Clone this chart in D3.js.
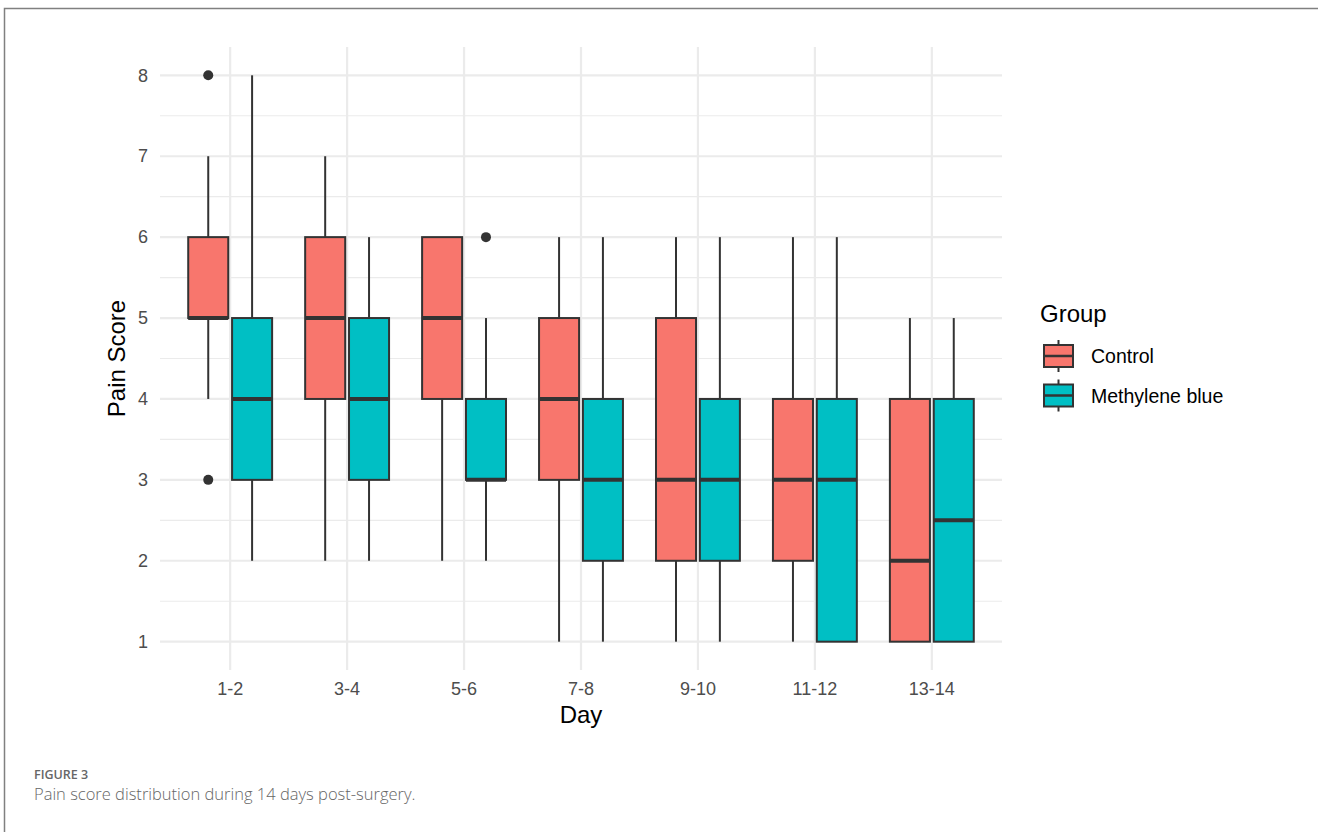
<!DOCTYPE html>
<html>
<head>
<meta charset="utf-8">
<script src="https://cdn.jsdelivr.net/npm/d3@7"></script>
<style>
  body { margin: 0; background: #fff; }
  svg { display: block; }
</style>
</head>
<body>
<script>
// ================== DATA ===========================
const days = ["1-2", "3-4", "5-6", "7-8", "9-10", "11-12", "13-14"];
const groups = ["Control", "Methylene blue"];
const groupColors = ["#F8766D", "#00BFC4"];

// five-number summaries per day: [lower whisker, q1, median, q3, upper whisker]
const controlStats = [
  [4, 5, 5, 6, 7],
  [2, 4, 5, 6, 7],
  [2, 4, 5, 6, 6],
  [1, 3, 4, 5, 6],
  [1, 2, 3, 5, 6],
  [1, 2, 3, 4, 6],
  [1, 1, 2, 4, 5]
];
const blueStats = [
  [2, 3, 4, 5, 8],
  [2, 3, 4, 5, 6],
  [2, 3, 3, 4, 5],
  [1, 2, 3, 4, 6],
  [1, 2, 3, 4, 6],
  [1, 1, 3, 4, 6],
  [1, 1, 2.5, 4, 5]
];
const controlOutliers = [[8, 3], [], [], [], [], [], []];
const blueOutliers = [[], [], [6], [], [], [], []];

const yTicks = [1, 2, 3, 4, 5, 6, 7, 8];

// ================== LAYOUT ===========================
const W = 1318, H = 832;
const FONT = "'Liberation Sans', Arial, sans-serif";
const svg = d3.select("body").append("svg")
  .attr("width", W).attr("height", H);

// figure frame (top + left rule)
svg.append("path")
  .attr("d", `M4.5,${H} L4.5,8.5 L${W},8.5`)
  .attr("fill", "none").attr("stroke", "#808080").attr("stroke-width", 1.5);

const panel = {left: 160, right: 1002, top: 47, bottom: 670};

const x = d3.scaleBand().domain(days)
  .range([panel.left, panel.right]).paddingOuter(0.1).paddingInner(0);
const step = x.step();
const xc = d => x(d) + x.bandwidth() / 2;

const y = d3.scaleLinear().domain([0.65, 8.35]).range([panel.bottom, panel.top]);

const g = svg.append("g");

// ============ grid =============================
const minor = d3.range(1.5, 8, 1);
g.selectAll(".minor").data(minor).enter().append("line")
  .attr("x1", panel.left).attr("x2", panel.right)
  .attr("y1", d => y(d)).attr("y2", d => y(d))
  .attr("stroke", "#EBEBEB").attr("stroke-width", 1.2);
g.selectAll(".major").data(yTicks).enter().append("line")
  .attr("x1", panel.left).attr("x2", panel.right)
  .attr("y1", d => y(d)).attr("y2", d => y(d))
  .attr("stroke", "#EBEBEB").attr("stroke-width", 2.2);
g.selectAll(".vmajor").data(days).enter().append("line")
  .attr("x1", d => xc(d)).attr("x2", d => xc(d))
  .attr("y1", panel.top).attr("y2", panel.bottom)
  .attr("stroke", "#EBEBEB").attr("stroke-width", 2.2);

// ============ axes labels =============================
const yAxis = d3.axisLeft(y).tickValues(yTicks).tickSize(0).tickPadding(12);
const yg = g.append("g").attr("transform", `translate(${panel.left},0)`).call(yAxis);
const xAxis = d3.axisBottom(x).tickSize(0).tickPadding(12);
const xg = g.append("g").attr("transform", `translate(0,${panel.bottom})`).call(xAxis);
[yg, xg].forEach(a => {
  a.select(".domain").remove();
  a.selectAll("text").attr("font-family", FONT)
    .attr("font-size", 18).attr("fill", "#4D4D4D");
});

svg.append("text")
  .attr("transform", `translate(125,${(panel.top + panel.bottom) / 2}) rotate(-90)`)
  .attr("text-anchor", "middle")
  .attr("font-family", FONT)
  .attr("font-size", 24).attr("fill", "#000").text("Pain Score");
svg.append("text")
  .attr("x", (panel.left + panel.right) / 2).attr("y", 723)
  .attr("text-anchor", "middle")
  .attr("font-family", FONT)
  .attr("font-size", 24).attr("fill", "#000").text("Day");

// ============ boxes =================================
const slot = step * 0.375;
const boxW = slot * 0.913;
const allStats = [controlStats, blueStats];
const allOut = [controlOutliers, blueOutliers];
const boxData = [];
groups.forEach((grp, gi) => {
  days.forEach((d, di) => {
    boxData.push({day: d, gi: gi, s: allStats[gi][di], out: allOut[gi][di]});
  });
});
const cx = b => xc(b.day) + (b.gi === 0 ? -1 : 1) * slot / 2;

const boxes = g.selectAll(".box").data(boxData).enter().append("g");
boxes.append("line")
  .attr("x1", cx).attr("x2", cx)
  .attr("y1", b => y(b.s[4])).attr("y2", b => y(b.s[3]))
  .attr("stroke", "#333").attr("stroke-width", 2);
boxes.append("line")
  .attr("x1", cx).attr("x2", cx)
  .attr("y1", b => y(b.s[1])).attr("y2", b => y(b.s[0]))
  .attr("stroke", "#333").attr("stroke-width", 2);
boxes.append("rect")
  .attr("x", b => cx(b) - boxW / 2).attr("width", boxW)
  .attr("y", b => y(b.s[3])).attr("height", b => y(b.s[1]) - y(b.s[3]))
  .attr("fill", b => groupColors[b.gi]).attr("stroke", "#333").attr("stroke-width", 2);
boxes.append("line")
  .attr("x1", b => cx(b) - boxW / 2).attr("x2", b => cx(b) + boxW / 2)
  .attr("y1", b => y(b.s[2])).attr("y2", b => y(b.s[2]))
  .attr("stroke", "#333").attr("stroke-width", 4);
boxes.selectAll("circle").data(b => b.out.map(v => ({b: b, v: v}))).enter()
  .append("circle")
  .attr("cx", o => cx(o.b)).attr("cy", o => y(o.v)).attr("r", 5)
  .attr("fill", "#333");

// ============ legend =================================
const leg = svg.append("g").attr("transform", "translate(1040,0)");
leg.append("text").attr("x", 0).attr("y", 322)
  .attr("font-family", FONT)
  .attr("font-size", 24).attr("fill", "#000").text("Group");
groups.forEach((grp, i) => {
  const cy = 356 + i * 39.5;
  const k = leg.append("g");
  k.append("line").attr("x1", 18.5).attr("x2", 18.5).attr("y1", cy - 16).attr("y2", cy + 16)
    .attr("stroke", "#333").attr("stroke-width", 2);
  k.append("rect").attr("x", 4).attr("y", cy - 11).attr("width", 29).attr("height", 22)
    .attr("fill", groupColors[i]).attr("stroke", "#333").attr("stroke-width", 2);
  k.append("line").attr("x1", 4).attr("x2", 33).attr("y1", cy).attr("y2", cy)
    .attr("stroke", "#333").attr("stroke-width", 2.5);
  leg.append("text").attr("x", 51).attr("y", cy + 7)
    .attr("font-family", FONT)
    .attr("font-size", 19.5).attr("fill", "#000").text(grp);
});

// ============ caption =================================
svg.append("text").attr("x", 34).attr("y", 778.5)
  .attr("font-family", "'Open Sans', sans-serif").attr("font-weight", 600)
  .attr("font-size", 12.5).attr("fill", "#666").text("FIGURE 3");
svg.append("text").attr("x", 34).attr("y", 800)
  .attr("font-family", "'Open Sans', sans-serif").attr("font-weight", 300)
  .attr("font-size", 16.5).attr("fill", "#666")
  .text("Pain score distribution during 14 days post-surgery.");
</script>
</body>
</html>
